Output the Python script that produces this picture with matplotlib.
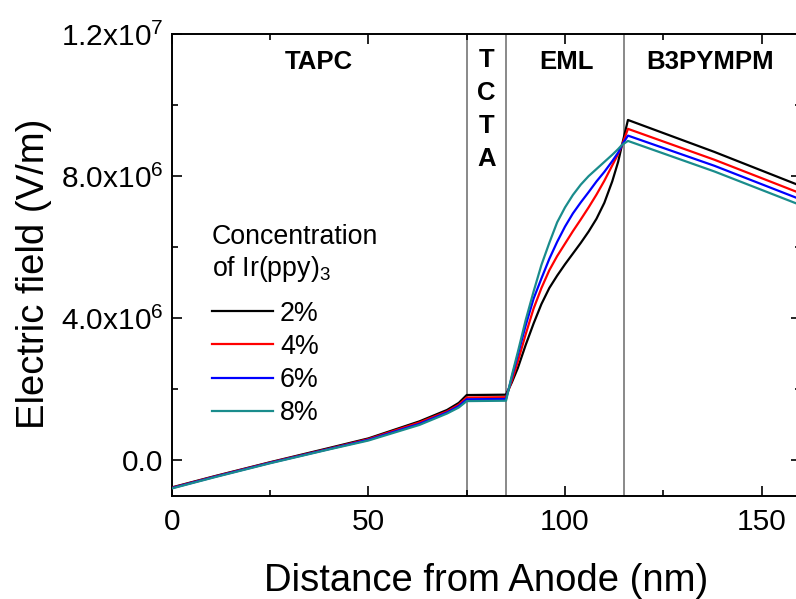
import numpy as np
import matplotlib
matplotlib.use('Agg')
import matplotlib.pyplot as plt
from matplotlib.ticker import MultipleLocator, FixedLocator

plt.rcParams['font.family'] = ['Liberation Sans', 'DejaVu Sans']
plt.rcParams['mathtext.fontset'] = 'custom'
plt.rcParams['mathtext.rm'] = 'Liberation Sans'
plt.rcParams['mathtext.it'] = 'Liberation Sans:italic'

# distance from anode (nm), same grid for every curve
dist = [0, 11, 25, 40, 50, 63, 70, 73, 75, 85, 86.5, 88, 90, 92, 94, 96, 98, 100, 102,
        104, 106, 108, 110, 112, 113.5, 114.5, 116, 138, 160]

# electric field in units of 1e6 V/m
field_2 = [-0.76, -0.44, -0.05, 0.35, 0.62, 1.10, 1.42, 1.62, 1.84, 1.85, 2.20, 2.60, 3.25, 3.85,
           4.40, 4.85, 5.20, 5.52, 5.82, 6.12, 6.44, 6.80, 7.25, 7.85, 8.40, 8.88, 9.58, 8.68, 7.72]
field_4 = [-0.77, -0.45, -0.06, 0.33, 0.60, 1.07, 1.38, 1.57, 1.77, 1.78, 2.25, 2.78, 3.55, 4.27,
           4.85, 5.35, 5.75, 6.10, 6.45, 6.78, 7.12, 7.48, 7.87, 8.30, 8.62, 8.88, 9.33, 8.46, 7.51]
field_6 = [-0.78, -0.46, -0.07, 0.32, 0.58, 1.03, 1.35, 1.53, 1.72, 1.73, 2.35, 2.97, 3.80, 4.55,
           5.12, 5.67, 6.15, 6.58, 6.95, 7.26, 7.55, 7.85, 8.12, 8.42, 8.66, 8.88, 9.14, 8.29, 7.34]
field_8 = [-0.79, -0.47, -0.08, 0.31, 0.56, 1.00, 1.32, 1.49, 1.67, 1.68, 2.40, 3.05, 3.95, 4.75,
           5.50, 6.12, 6.70, 7.12, 7.47, 7.76, 8.00, 8.20, 8.40, 8.60, 8.76, 8.88, 8.99, 8.13, 7.18]

labels = ['2%', '4%', '6%', '8%']
colors = ['black', '#ff0000', '#0000ff', '#1a8c8c']

# layer boundaries and names
boundaries = [75, 85, 115]
layer_names = ['TAPC', 'EML', 'B3PYMPM']
layer_pos = [37.5, 100.4, 136.9]

yticks = [0, 4e6, 8e6, 1.2e7]
ytick_labels = ['0.0', r'4.0x10$^{6}$', r'8.0x10$^{6}$', r'1.2x10$^{7}$']

fig = plt.figure(figsize=(7.96, 5.99), dpi=100)
ax = fig.add_axes([0.2157, 0.172, 0.7906, 0.7713])

for b in boundaries:
    ax.axvline(b, color='#808080', lw=1.3, zorder=1)

series = [field_2, field_4, field_6, field_8]
for vals, lab, c in zip(series, labels, colors):
    ax.plot(dist, np.array(vals) * 1e6, color=c, lw=1.6, label=lab, zorder=3)

ax.set_xlim(0, 160)
ax.set_ylim(-1e6, 1.2e7)
ax.xaxis.set_major_locator(MultipleLocator(50))
ax.xaxis.set_minor_locator(MultipleLocator(25))
ax.yaxis.set_major_locator(FixedLocator(yticks))
ax.yaxis.set_minor_locator(FixedLocator([2e6, 6e6, 1e7]))
ax.set_yticklabels(ytick_labels)

ax.tick_params(which='both', direction='in', top=True, right=True, width=1.2, labelsize=21.5)
ax.tick_params(which='major', length=7)
ax.tick_params(which='minor', length=4)
ax.tick_params(axis='x', pad=9)
ax.tick_params(axis='y', pad=6)
for s in ax.spines.values():
    s.set_linewidth(1.4)

ax.set_xlabel('Distance from Anode (nm)', fontsize=27.5)
ax.set_ylabel('Electric field (V/m)', fontsize=27.5)
ax.xaxis.set_label_coords(0.5, -0.144)
ax.yaxis.set_label_coords(-0.19, 0.48)

for name, xp in zip(layer_names, layer_pos):
    ax.text(xp, 11.2e6, name, fontsize=18.5, fontweight='bold', ha='center', va='center')
ax.text(80, 11.6e6, 'T\nC\nT\nA', fontsize=18.5, fontweight='bold', ha='center', va='top',
        linespacing=1.47)

# legend title written separately so the gap above the entries can be set
ax.text(0.0636, 0.5887, 'Concentration\nof Ir(ppy)$_3$', transform=ax.transAxes,
        fontsize=19.3, ha='left', va='top')
leg = ax.legend(loc='upper left', bbox_to_anchor=(0.0636, 0.423), frameon=False,
                fontsize=19.3, handlelength=2.3, handletextpad=0.25, labelspacing=0.27,
                borderpad=0, borderaxespad=0)

fig.savefig('out.png', dpi=100)
